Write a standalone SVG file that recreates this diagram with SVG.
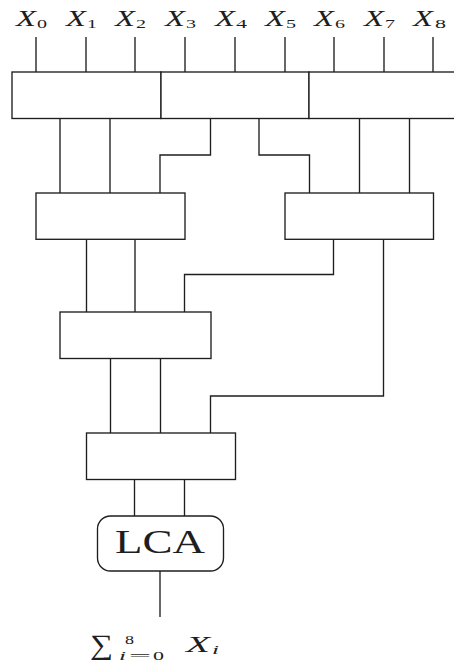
<svg xmlns="http://www.w3.org/2000/svg" width="454" height="664" viewBox="0 0 454 664">
  <style>
    .box { fill: #ffffff; stroke: #1e1e1e; stroke-width: 1.35; }
    .wire { fill: none; stroke: #1e1e1e; stroke-width: 1.35; }
    .mx { font-family: "Liberation Serif", "DejaVu Serif", serif; font-style: italic; font-size: 23px; fill: #1e1e1e; }
    .sub { font-family: "Liberation Serif", "DejaVu Serif", serif; font-size: 13px; fill: #1e1e1e; }
    .rm { font-family: "Liberation Serif", "DejaVu Serif", serif; fill: #1e1e1e; }
  </style>
  <rect width="454" height="664" fill="#ffffff"/>

  <!-- input labels X_0 .. X_8 -->
  <g id="inputs">
    <text class="mx" x="16" y="26" textLength="20" lengthAdjust="spacingAndGlyphs">X</text>
    <text class="sub" x="37" y="27.5" textLength="10" lengthAdjust="spacingAndGlyphs">0</text>
    <text class="mx" x="66" y="26" textLength="20" lengthAdjust="spacingAndGlyphs">X</text>
    <text class="sub" x="87" y="27.5" textLength="10" lengthAdjust="spacingAndGlyphs">1</text>
    <text class="mx" x="115" y="26" textLength="20" lengthAdjust="spacingAndGlyphs">X</text>
    <text class="sub" x="136" y="27.5" textLength="10" lengthAdjust="spacingAndGlyphs">2</text>
    <text class="mx" x="165" y="26" textLength="20" lengthAdjust="spacingAndGlyphs">X</text>
    <text class="sub" x="186" y="27.5" textLength="10" lengthAdjust="spacingAndGlyphs">3</text>
    <text class="mx" x="215" y="26" textLength="20" lengthAdjust="spacingAndGlyphs">X</text>
    <text class="sub" x="236" y="27.5" textLength="11" lengthAdjust="spacingAndGlyphs">4</text>
    <text class="mx" x="265" y="26" textLength="20" lengthAdjust="spacingAndGlyphs">X</text>
    <text class="sub" x="286" y="27.5" textLength="10" lengthAdjust="spacingAndGlyphs">5</text>
    <text class="mx" x="314" y="26" textLength="20" lengthAdjust="spacingAndGlyphs">X</text>
    <text class="sub" x="335" y="27.5" textLength="10" lengthAdjust="spacingAndGlyphs">6</text>
    <text class="mx" x="364" y="26" textLength="20" lengthAdjust="spacingAndGlyphs">X</text>
    <text class="sub" x="385" y="27.5" textLength="10" lengthAdjust="spacingAndGlyphs">7</text>
    <text class="mx" x="413" y="26" textLength="20" lengthAdjust="spacingAndGlyphs">X</text>
    <text class="sub" x="435" y="27.5" textLength="11" lengthAdjust="spacingAndGlyphs">8</text>
  </g>

  <!-- connectors -->
  <g id="connectors">
    <!-- inputs into the first row -->
    <path class="wire" d="M36 37V72 M86 37V72 M135 37V72 M185 37V72 M235 37V72 M285 37V72 M334 37V72 M384 37V72 M433 37V72"/>
    <!-- first row to second row -->
    <path class="wire" d="M60 118V193 M110 118V193 M210.5 118V155H160V193 M259 118V155H309.5V193 M359.5 118V193 M409.5 118V193"/>
    <!-- second row to third row -->
    <path class="wire" d="M86.5 239V312 M135 239V312 M333.5 239V274.5H184.5V312"/>
    <!-- carry from the right block down to the fourth row -->
    <path class="wire" d="M383.5 239V396H210.5V433"/>
    <!-- third row to fourth row -->
    <path class="wire" d="M110.5 358.5V433 M160.5 358.5V433"/>
    <!-- fourth row to LCA -->
    <path class="wire" d="M134.5 479.5V516 M184.5 479.5V516"/>
    <!-- LCA output -->
    <path class="wire" d="M160 571V617"/>
  </g>

  <!-- first row of blocks -->
  <g id="b1a"><rect class="box" x="12" y="72" width="149" height="46.5"/></g>
  <g id="b1b"><rect class="box" x="161" y="72" width="148" height="46.5"/></g>
  <g id="b1c"><rect class="box" x="309" y="72" width="149" height="46.5"/></g>

  <!-- second row -->
  <g id="b2a"><rect class="box" x="36" y="193" width="149" height="46.3"/></g>
  <g id="b2b"><rect class="box" x="285" y="193" width="148.5" height="46.3"/></g>

  <!-- third row -->
  <g id="b3"><rect class="box" x="60" y="312" width="151" height="46.5"/></g>

  <!-- fourth row -->
  <g id="b4"><rect class="box" x="86.5" y="433" width="149" height="46.5"/></g>

  <!-- LCA -->
  <g id="lca">
    <rect class="box" x="97.5" y="516" width="126" height="55" rx="13" ry="13"/>
    <text class="rm" x="115" y="553" font-size="33" textLength="90" lengthAdjust="spacingAndGlyphs">LCA</text>
  </g>

  <!-- result label -->
  <g id="result">
    <text class="rm" x="90" y="654" font-size="28" textLength="23" lengthAdjust="spacingAndGlyphs">∑</text>
    <text class="sub" x="125" y="644" font-size="12" textLength="9" lengthAdjust="spacingAndGlyphs">8</text>
    <text class="sub" x="119" y="660" font-style="italic" textLength="7" lengthAdjust="spacingAndGlyphs">i</text>
    <text class="sub" x="129" y="660" textLength="22" lengthAdjust="spacingAndGlyphs">=</text>
    <text class="sub" x="153" y="660" textLength="11" lengthAdjust="spacingAndGlyphs">0</text>
    <text class="mx" x="186" y="652" textLength="24" lengthAdjust="spacingAndGlyphs">X</text>
    <text class="sub" x="212" y="654" font-style="italic" textLength="7" lengthAdjust="spacingAndGlyphs">i</text>
  </g>
</svg>
